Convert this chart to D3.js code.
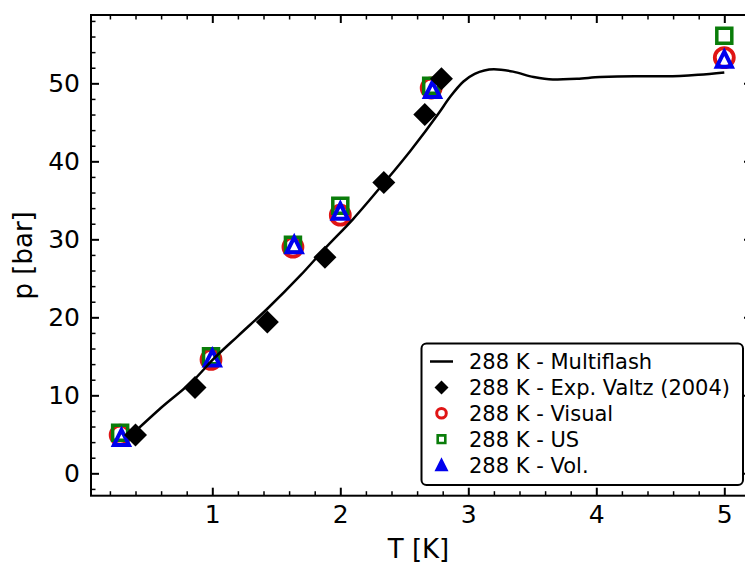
<!DOCTYPE html>
<html><head><meta charset="utf-8">
<script src="https://cdn.jsdelivr.net/npm/d3@7"></script>
<style>body{margin:0;background:#fff} svg{display:block;font-family:"DejaVu Sans",sans-serif}</style>
</head><body><svg id="c" width="745" height="565"></svg>
<script>
// ---- data ----
const mfT = [0.38, 0.6, 0.87, 1.0, 1.2, 1.43, 1.69, 1.89, 2.1, 2.34, 2.55, 2.77, 2.86, 2.96, 3.05, 3.2, 3.35, 3.51, 3.66, 3.85, 4.03, 4.3, 4.55, 4.8, 5.0];
const mfP = [5.1, 8.4, 12.2, 14.5, 17.6, 21.1, 25.4, 29.0, 32.6, 37.2, 41.4, 46.2, 48.3, 50.2, 51.2, 51.8, 51.5, 50.8, 50.5, 50.6, 50.8, 50.9, 50.9, 51.1, 51.4];
const valtzT = [0.40, 0.865, 1.43, 1.88, 2.34, 2.66, 2.79];
const valtzP = [4.9, 11.0, 19.4, 27.7, 37.3, 46.0, 50.6];
const visT = [0.28, 0.99, 1.63, 2.0, 2.71, 5.0];
const visP = [4.9, 14.6, 29.0, 33.1, 49.4, 53.3];
const usT = [0.28, 0.99, 1.63, 2.0, 2.71, 5.0];
const usP = [5.2, 15.0, 29.3, 34.3, 49.7, 56.1];
const volT = [0.29, 1.0, 1.64, 2.0, 2.72, 5.0];
const volP = [4.6, 14.8, 29.3, 33.6, 49.2, 53.1];
const xTicks = [1, 2, 3, 4, 5];
const yTicks = [0, 10, 20, 30, 40, 50];
const legendLabels = ["288 K - Multiflash", "288 K - Exp. Valtz (2004)", "288 K - Visual", "288 K - US", "288 K - Vol."];
const xLabel = "T [K]", yLabel = "p [bar]";

// ---- layout ----
const L = 91, R = 752, T = 15, B = 495.7;
const x = d3.scaleLinear().domain([0.0523, 5.2164]).range([L, R]);
const y = d3.scaleLinear().domain([-2.87, 58.76]).range([B, T]);
const svg = d3.select("#c");
const RED = "#e01515", GREEN = "#0a7d0a", BLUE = "#0000ee";

const xMinor = d3.range(0.2, 5.21, 0.2).filter(v => Math.abs(v - Math.round(v)) > 1e-6);
const yMinor = d3.range(-2, 58.8, 2).filter(v => v % 10 !== 0);

function styleAxis(g, w) {
  g.select(".domain").remove();
  g.selectAll(".tick line").attr("stroke", "#000").attr("stroke-width", w);
  g.selectAll("text").attr("fill", "#000").style("font-size", "25px").style("font-family", "DejaVu Sans");
}
// bottom
svg.append("g").attr("transform", `translate(0,${B})`)
  .call(d3.axisBottom(x).tickValues(xTicks).tickFormat(d3.format("d")).tickSizeInner(-8).tickSizeOuter(0).tickPadding(10))
  .call(g => styleAxis(g, 2));
svg.append("g").attr("transform", `translate(0,${B})`)
  .call(d3.axisBottom(x).tickValues(xMinor).tickFormat("").tickSizeInner(-4.5).tickSizeOuter(0))
  .call(g => styleAxis(g, 1.5));
// top
svg.append("g").attr("transform", `translate(0,${T})`)
  .call(d3.axisTop(x).tickValues(xTicks).tickFormat("").tickSizeInner(-8).tickSizeOuter(0))
  .call(g => styleAxis(g, 2));
svg.append("g").attr("transform", `translate(0,${T})`)
  .call(d3.axisTop(x).tickValues(xMinor).tickFormat("").tickSizeInner(-4.5).tickSizeOuter(0))
  .call(g => styleAxis(g, 1.5));
// left
svg.append("g").attr("transform", `translate(${L},0)`)
  .call(d3.axisLeft(y).tickValues(yTicks).tickFormat(d3.format("d")).tickSizeInner(-8).tickSizeOuter(0).tickPadding(11))
  .call(g => styleAxis(g, 2));
svg.append("g").attr("transform", `translate(${L},0)`)
  .call(d3.axisLeft(y).tickValues(yMinor).tickFormat("").tickSizeInner(-4.5).tickSizeOuter(0))
  .call(g => styleAxis(g, 1.5));
// right
svg.append("g").attr("transform", `translate(${R},0)`)
  .call(d3.axisRight(y).tickValues(yTicks).tickFormat("").tickSizeInner(-8).tickSizeOuter(0))
  .call(g => styleAxis(g, 2));
svg.append("g").attr("transform", `translate(${R},0)`)
  .call(d3.axisRight(y).tickValues(yMinor).tickFormat("").tickSizeInner(-4.5).tickSizeOuter(0))
  .call(g => styleAxis(g, 1.5));

// frame
svg.append("rect").attr("x", L).attr("y", T).attr("width", R - L).attr("height", B - T)
  .attr("fill", "none").attr("stroke", "#000").attr("stroke-width", 2);

// axis labels
svg.append("text").attr("x", (L + R) / 2 - 3).attr("y", 558).attr("text-anchor", "middle")
  .style("font-size", "26px").attr("fill", "#000").text(xLabel);
svg.append("text").attr("transform", `translate(32,${(T + B) / 2}) rotate(-90)`).attr("text-anchor", "middle")
  .style("font-size", "26px").attr("fill", "#000").text(yLabel);

// marker path helpers (pixel sizes)
const diamondPath = h => `M0,${-h}L${h},0L0,${h}L${-h},0Z`;
const squarePath = s => `M${-s},${-s}H${s}V${s}H${-s}Z`;
const triPath = h => `M0,${-h}L${h},${h}L${-h},${h}Z`;

const zipPts = (xs, ys) => xs.map((v, i) => [v, ys[i]]);

const plot = svg.append("g");
// Visual circles
plot.selectAll(".vis").data(zipPts(visT, visP)).join("circle")
  .attr("cx", d => x(d[0])).attr("cy", d => y(d[1])).attr("r", 9.5)
  .attr("fill", "none").attr("stroke", RED).attr("stroke-width", 3.8);
// US squares
plot.selectAll(".us").data(zipPts(usT, usP)).join("path")
  .attr("transform", d => `translate(${x(d[0])},${y(d[1])})`).attr("d", squarePath(7.5))
  .attr("fill", "none").attr("stroke", GREEN).attr("stroke-width", 3.5);
// Vol triangles
plot.selectAll(".vol").data(zipPts(volT, volP)).join("path")
  .attr("transform", d => `translate(${x(d[0])},${y(d[1])})`).attr("d", triPath(7.5))
  .attr("fill", "none").attr("stroke", BLUE).attr("stroke-width", 4).attr("stroke-linejoin", "miter");
// Valtz diamonds
plot.selectAll(".val").data(zipPts(valtzT, valtzP)).join("path")
  .attr("transform", d => `translate(${x(d[0])},${y(d[1])})`).attr("d", diamondPath(11.5))
  .attr("fill", "#000");
// Multiflash line
plot.append("path").datum(zipPts(mfT, mfP))
  .attr("d", d3.line().x(d => x(d[0])).y(d => y(d[1])).curve(d3.curveMonotoneX))
  .attr("fill", "none").attr("stroke", "#000").attr("stroke-width", 2.5);

// legend
const lg = svg.append("g");
lg.append("rect").attr("x", 421.5).attr("y", 343.5).attr("width", 321.5).attr("height", 141.5)
  .attr("rx", 5).attr("fill", "#fff").attr("fill-opacity", 0.85).attr("stroke", "#000").attr("stroke-width", 2);
const rowY = i => 361.5 + i * 25.9;
const mx = 441.5;
lg.append("line").attr("x1", 430).attr("x2", 453).attr("y1", rowY(0)).attr("y2", rowY(0))
  .attr("stroke", "#000").attr("stroke-width", 2.5);
lg.append("path").attr("transform", `translate(${mx},${rowY(1)})`).attr("d", diamondPath(7)).attr("fill", "#000");
lg.append("circle").attr("cx", mx).attr("cy", rowY(2)).attr("r", 4.8).attr("fill", "none").attr("stroke", RED).attr("stroke-width", 3);
lg.append("path").attr("transform", `translate(${mx},${rowY(3)})`).attr("d", squarePath(3.8)).attr("fill", "none").attr("stroke", GREEN).attr("stroke-width", 2.6);
lg.append("path").attr("transform", `translate(${mx},${rowY(4)})`).attr("d", triPath(5)).attr("fill", BLUE).attr("stroke", BLUE).attr("stroke-width", 2.5);
lg.selectAll(".lt").data(legendLabels).join("text")
  .attr("x", 469).attr("y", (d, i) => rowY(i)).attr("dy", "0.36em")
  .style("font-size", "21px").attr("fill", "#000").text(d => d);
</script>
</body></html>
